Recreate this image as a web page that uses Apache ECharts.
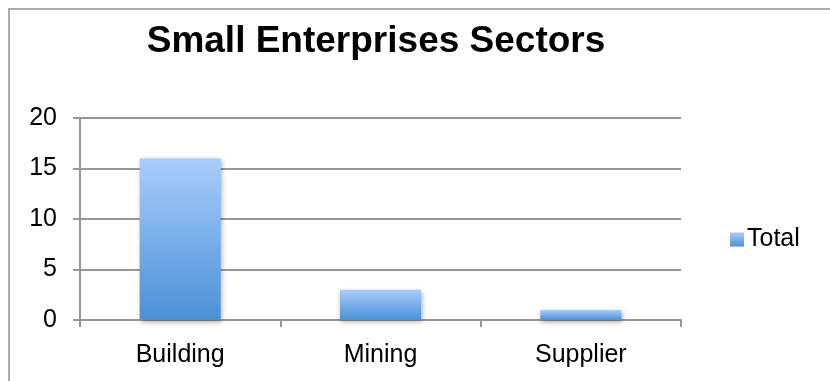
<!DOCTYPE html>
<html>
<head>
<meta charset="utf-8">
<script src="https://cdn.jsdelivr.net/npm/echarts@6/dist/echarts.min.js"></script>
<style>
  html, body { margin: 0; padding: 0; background: #fff; }
  #chart { width: 830px; height: 381px; }
</style>
</head>
<body>
<div id="chart"></div>
<script>
// Sector names and counts
const categories = ['Building', 'Mining', 'Supplier'];
const totals = [16, 3, 1];
const seriesName = 'Total';
const yTicks = { min: 0, max: 20, interval: 5 };

const chart = echarts.init(document.getElementById('chart'), null, { renderer: 'canvas' });
const font = '"Liberation Sans", Arial, Helvetica, sans-serif';
const gridGray = '#979797';

const barFill = new echarts.graphic.LinearGradient(0, 0, 0, 1, [
  { offset: 0, color: '#a9cdfb' },
  { offset: 1, color: '#4b91d6' }
]);

chart.setOption({
  animation: false,
  backgroundColor: '#ffffff',
  textStyle: { fontFamily: font },
  title: {
    text: 'Small Enterprises Sectors',
    left: 376,
    top: 23,
    padding: 0,
    textAlign: 'center',
    textStyle: { fontFamily: font, fontSize: 37, fontWeight: 'bold', color: '#000' }
  },
  legend: {
    data: [seriesName],
    left: 730,
    top: 227,
    padding: 0,
    icon: 'rect',
    itemWidth: 14,
    itemHeight: 14,
    itemGap: 4,
    textStyle: { fontFamily: font, fontSize: 25, color: '#000', padding: [0, 0, 0, -2] }
  },
  graphic: [{
    type: 'rect',
    shape: { x: 9, y: 9, width: 900, height: 500 },
    style: { fill: 'none', stroke: '#ababab', lineWidth: 2 },
    silent: true,
    z: -1
  }],
  grid: { left: 80, right: 149, top: 118, bottom: 61, containLabel: false },
  xAxis: {
    type: 'category',
    data: categories,
    boundaryGap: true,
    axisLine: { show: true, lineStyle: { color: gridGray, width: 2 } },
    axisTick: { show: true, length: 7, lineStyle: { color: gridGray, width: 2 } },
    axisLabel: { fontFamily: font, fontSize: 25, color: '#000', margin: 23 },
    splitLine: { show: false }
  },
  yAxis: {
    type: 'value',
    min: yTicks.min,
    max: yTicks.max,
    interval: yTicks.interval,
    axisLine: { show: true, lineStyle: { color: gridGray, width: 2 } },
    axisTick: { show: true, length: 7, lineStyle: { color: gridGray, width: 2 } },
    axisLabel: { fontFamily: font, fontSize: 25, color: '#000', margin: 23 },
    splitLine: { show: true, lineStyle: { color: gridGray, width: 2 } }
  },
  series: [{
    name: seriesName,
    type: 'bar',
    data: totals,
    barWidth: 81,
    itemStyle: {
      color: barFill,
      shadowColor: 'rgba(0,0,0,0.35)',
      shadowBlur: 5,
      shadowOffsetX: 1,
      shadowOffsetY: 2
    }
  }]
});
</script>
</body>
</html>
